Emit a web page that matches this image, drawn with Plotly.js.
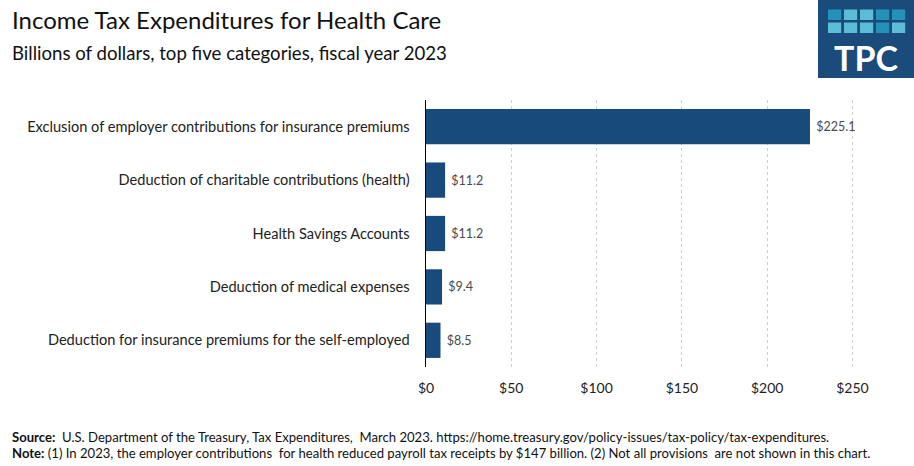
<!DOCTYPE html>
<html>
<head>
<meta charset="utf-8">
<script src="https://cdn.plot.ly/plotly-3.0.1.min.js"></script>
<style>html,body{margin:0;padding:0;background:#fff;}#chart{width:914px;height:466px;}</style>
</head>
<body>
<div id="chart"></div>
<script>
// Data
const categories = [
  "Exclusion of employer contributions for insurance premiums",
  "Deduction of charitable contributions (health)",
  "Health Savings Accounts",
  "Deduction of medical expenses",
  "Deduction for insurance premiums for the self-employed"
];
const values = [225.1, 11.2, 11.2, 9.4, 8.5];
const tickValues = [0, 50, 100, 150, 200, 250];
const tickLabels = ["$0", "$50", "$100", "$150", "$200", "$250"];

const W = 914, H = 466;
const M = {l: 426, r: 53, t: 100, b: 99};
const pw = W - M.l - M.r, ph = H - M.t - M.b;
const px = x => (x - M.l) / pw;
const py = y => (H - M.b - y) / ph;

const FONT = "Lato, 'Open Sans', sans-serif";
const barColor = "#184a7c";

const trace = {
  type: "bar",
  orientation: "h",
  y: categories,
  x: values,
  marker: {color: barColor},
  text: values.map(v => "\u00a0$" + v.toFixed(1)),
  textposition: "outside",
  textfont: {family: FONT, size: 12.5, color: "#4a4a4a"},
  cliponaxis: false,
  hoverinfo: "none"
};

// Logo shapes
const shapes = [];
const lx0 = 818, lx1 = 914, ly0 = 0, ly1 = 78;
shapes.push({type: "rect", xref: "paper", yref: "paper", x0: px(lx0), x1: px(lx1), y0: py(ly1), y1: py(ly0), fillcolor: "#1b4b7b", line: {width: 0}, layer: "above"});
const dark = "#2591b8", light = "#5dbcd8";
const rowColors = [[dark, light, light, dark, dark], [light, light, light, dark, light]];
const sqW = 13.2, gap = 2.8, sx0 = 828;
const rowsY = [[9.5, 20], [22.5, 33]];
for (let r = 0; r < 2; r++) {
  for (let c = 0; c < 5; c++) {
    const x0 = sx0 + c * (sqW + gap);
    shapes.push({type: "rect", xref: "paper", yref: "paper",
      x0: px(x0), x1: px(x0 + sqW), y0: py(rowsY[r][1]), y1: py(rowsY[r][0]),
      fillcolor: rowColors[r][c], line: {width: 0}, layer: "above"});
  }
}

const annotations = [
  {text: "Income Tax Expenditures for Health Care", x: px(10), y: py(20), xref: "paper", yref: "paper",
   xanchor: "left", yanchor: "middle", showarrow: false, font: {family: FONT, size: 24, color: "#111"}},
  {text: "Billions of dollars, top five categories, fiscal year 2023", x: px(10), y: py(53), xref: "paper", yref: "paper",
   xanchor: "left", yanchor: "middle", showarrow: false, font: {family: FONT, size: 18.6, color: "#111"}},
  {text: "<b>Source:</b>  U.S. Department of the Treasury, Tax Expenditures,  March 2023. https://home.treasury.gov/policy-issues/tax-policy/tax-expenditures.",
   x: px(10), y: py(437), xref: "paper", yref: "paper", xanchor: "left", yanchor: "middle", showarrow: false,
   font: {family: FONT, size: 13.1, color: "#111"}},
  {text: "<b>Note:</b> (1) In 2023, the employer contributions  for health reduced payroll tax receipts by $147 billion. (2) Not all provisions  are not shown in this chart.",
   x: px(10), y: py(453), xref: "paper", yref: "paper", xanchor: "left", yanchor: "middle", showarrow: false,
   font: {family: FONT, size: 13.1, color: "#111"}},
  {text: "<b>TPC</b>", x: px(866), y: py(57), xref: "paper", yref: "paper", xanchor: "center", yanchor: "middle",
   showarrow: false, font: {family: FONT, size: 34, color: "#ffffff"}}
];

const layout = {
  width: W, height: H,
  margin: M,
  paper_bgcolor: "#fff", plot_bgcolor: "#fff",
  showlegend: false,
  bargap: 0.34,
  font: {family: FONT, color: "#222"},
  xaxis: {
    range: [0, 255],
    tickvals: tickValues, ticktext: tickLabels,
    tickfont: {family: FONT, size: 14, color: "#222"},
    showgrid: true, gridcolor: "#cfcfcf", griddash: "dot", gridwidth: 1,
    zeroline: false, showline: false,
    ticks: "outside", ticklen: 8, tickcolor: "rgba(0,0,0,0)",
    fixedrange: true
  },
  yaxis: {
    autorange: "reversed",
    showline: true, linecolor: "#000", linewidth: 1.5,
    showgrid: false, zeroline: false,
    ticks: "outside", ticklen: 12, tickcolor: "rgba(0,0,0,0)",
    tickfont: {family: FONT, size: 14.6, color: "#222"},
    fixedrange: true
  },
  shapes: shapes,
  annotations: annotations
};

Plotly.newPlot("chart", [trace], layout, {displayModeBar: false, staticPlot: true});
</script>
</body>
</html>
